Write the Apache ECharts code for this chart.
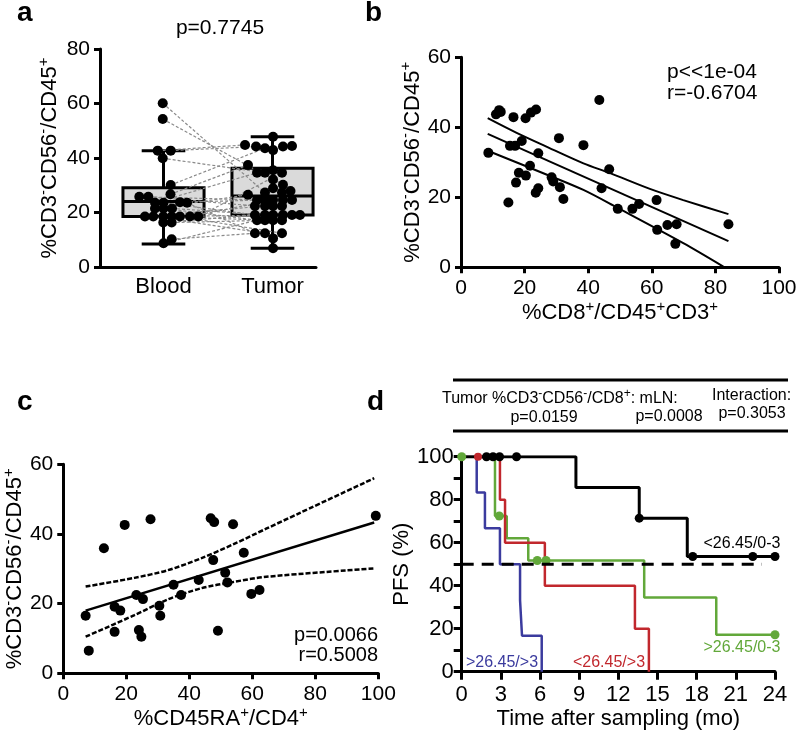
<!DOCTYPE html>
<html><head><meta charset="utf-8">
<script src="https://cdn.jsdelivr.net/npm/echarts@6/dist/echarts.min.js"></script>
<style>html,body{margin:0;padding:0;background:#fff}#c{width:800px;height:738px}</style>
</head><body><div id="c"></div>
<script>
// ---------- Panel a ----------
const aCategories = ['Blood', 'Tumor'];
const aBoxStats = [[8.4, 18.5, 24.0, 29.1, 42.7], [6.9, 19.1, 26.1, 36.2, 47.8]]; // min,Q1,median,Q3,max
const bloodY = [60.1,54.3,42.7,42.7,39.9,30.1,26.7,25.8,25.8,23.6,23.6,23.8,23.6,21.5,21.5,21.5,18.5,18.5,18.5,18.5,18.5,18.5,18.5,16.3,16.3,10.2,8.7];
const bloodX = [0.993,0.993,0.947,1.066,0.993,1.066,1.064,0.778,0.861,0.922,1.0,1.151,1.216,0.922,1.0,1.078,0.830,0.906,0.998,1.075,1.151,1.243,1.319,0.998,1.075,1.075,1.0];
const tumorY = [47.8,44.8,44.2,43.6,44.2,44.4,42.9,37.4,34.6,34.6,35.5,34.6,32.1,30.2,28.9,27.3,27.3,27.9,26.5,24.6,24.6,24.6,24.6,24.6,22.4,22.4,22.4,22.4,19.1,19.1,19.1,19.1,19.1,19.1,17.2,17.2,17.2,17.2,12.4,12.4,12.4,10.5,6.9];
const tumorX = [2.005,1.748,1.849,1.931,2.096,2.179,2.005,1.775,1.858,1.931,2.005,2.087,2.005,2.096,2.005,1.931,2.087,2.165,1.775,1.858,1.931,2.005,2.096,2.179,1.839,1.931,2.005,2.087,1.839,1.931,2.005,2.096,2.179,2.252,1.858,1.931,2.005,2.087,1.839,1.931,2.087,2.005,2.005];
const pairs = [[0,15],[1,13],[2,1],[3,2],[4,9],[5,3],[6,7],[7,19],[8,24],[9,8],[10,28],[11,20],[12,38],[13,18],[14,34],[15,29],[16,25],[17,39],[18,35],[19,30],[20,40],[21,21],[22,11],[23,28],[24,36],[25,38],[26,34]];
const aPValue = 'p=0.7745';

// ---------- Panel b ----------
const bX = [8.6,11,12,12.5,14.9,15.4,16.5,17,17.3,18.2,19.1,20.3,20.4,21.7,22,23.6,23.5,24.3,24.3,28.5,29,30.8,31.1,32.2,38.5,43.5,44.2,46.6,49.3,53.9,56,61.5,61.7,64.9,67.8,67.4,84.1];
const bY = [32.7,43.7,44.9,44.4,18.5,34.7,42.9,34.7,24.2,27,36.1,42.6,26.2,29,44.2,45.1,21.3,22.6,32.6,25.7,24.5,36.9,22.9,19.5,34.9,47.8,22.6,28,16.7,16.7,18.1,19.2,10.7,12.1,12.3,6.7,12.3];
const bFitX = [8.4, 84.1], bFitY = [38.1, 7.5];
const bUpX = [8.4, 17.5, 28, 38.5, 46.9, 59.4, 69.9, 84.1], bUpY = [42.6, 38.4, 34.0, 29.7, 26.9, 22.4, 19.2, 15.2];
const bLoX = [8.4, 28, 38.5, 49, 69.9, 82.5], bLoY = [33.3, 26.1, 22.1, 17.1, 6.9, 0.2];
const bStats = ['p<<1e-04', 'r=-0.6704'];

// ---------- Panel c ----------
const cX = [7.1,8.1,12.9,16.3,16.3,18.1,19.5,23.2,24.0,24.8,25.3,27.7,30.5,30.8,35.0,37.4,43.0,46.8,47.9,47.6,49.1,51.4,52.1,53.9,57.3,59.7,62.3,99.2];
const cY = [16.5,6.5,35.9,19.1,11.9,18.0,42.6,22.5,12.4,10.5,21.3,44.2,19.4,16.5,25.4,22.5,26.8,44.5,43.4,32.5,12.2,28.9,26.1,42.8,34.6,22.8,23.9,45.2];
const cFitX = [7.1, 98.7], cFitY = [18.0, 43.3];
const cUpX = [7.1, 22.6, 33.2, 43.7, 53.9, 64.4, 75.0, 98.7], cUpY = [24.9, 27.4, 29.6, 33.0, 37.0, 41.5, 46.0, 56.0];
const cLoX = [7.1, 22.6, 33.2, 43.7, 53.9, 64.4, 98.7], cLoY = [10.5, 16.7, 21.2, 24.4, 26.2, 27.7, 30.1];
const cStats = ['p=0.0066', 'r=0.5008'];

// ---------- Panel d ----------
const dTicksX = [0, 3, 6, 9, 12, 15, 18, 21, 24];
const blackT = [0, 8.75, 13.6, 17.28, 24], blackS = [100, 85.7, 71.4, 53.6, 53.6];
const blackCT = [1.9, 2.4, 2.9, 4.2, 13.6, 17.7, 22.3, 24], blackCS = [100, 100, 100, 100, 71.4, 53.6, 53.6, 53.6];
const redT = [0, 2.93, 3.32, 6.37, 13.27, 14.34], redS = [100, 80, 60, 40, 20, 0];
const redCT = [1.25], redCS = [100];
const blueT = [0, 1.15, 1.78, 2.93, 4.47, 4.62, 6.13], blueS = [100, 83.3, 66.7, 50, 33.3, 16.7, 0];
const greenT = [0, 2.55, 3.45, 5.1, 13.98, 19.5, 24], greenS = [100, 72.4, 62.1, 51.7, 34.5, 17.2, 17.2];
const greenCT = [0, 2.88, 5.79, 6.46, 24], greenCS = [100, 72.4, 51.7, 51.7, 17.2];
const medianT = [0, 23], medianS = [50, 50];
const groupNames = ['<26.45/0-3', '>26.45/0-3', '>26.45/>3', '<26.45/>3'];
const headerPs = ['p=0.0159', 'p=0.0008', 'p=0.3053'];

// ---------- build ----------
const FF = '"Liberation Sans", Arial, sans-serif';
const BLUE = '#3b3b9e', RED = '#c1272d', GREEN = '#62a83a';
const zip = (xs, ys) => xs.map((x, i) => [x, ys[i]]);
const supRich = {
  n: { fontSize: 22, lineHeight: 28, fontFamily: FF, color: '#000' },
  s: { fontSize: 15, lineHeight: 12, verticalAlign: 'top', fontFamily: FF, color: '#000' }
};
const yNameA = '{n|%CD3}{s|-}{n|CD56}{s|-}{n|/CD45}{s|+}';
const dot = (c) => ({ color: c, opacity: 1 });

function axisBase(extra) {
  return Object.assign({
    type: 'value',
    splitLine: { show: false },
    axisLine: { show: true, onZero: false, lineStyle: { color: '#000', width: 3 } },
    axisTick: { show: true, length: 6, lineStyle: { color: '#000', width: 3 } },
    axisLabel: { color: '#000', fontSize: 21, fontFamily: FF, margin: 10 },
    nameTextStyle: { color: '#000', fontSize: 22, fontFamily: FF, rich: supRich },
    nameLocation: 'middle'
  }, extra);
}

const option = {
  animation: false,
  backgroundColor: '#fff',
  textStyle: { fontFamily: FF },
  grid: [
    { left: 100, top: 49, width: 216, height: 218 },
    { left: 461, top: 57.3, width: 318, height: 210 },
    { left: 61.5, top: 464.3, width: 316.8, height: 209 },
    { left: 461.7, top: 456.7, width: 313.3, height: 215 }
  ],
  xAxis: [
    axisBase({ gridIndex: 0, min: 0.4174, max: 2.399, axisTick: { show: false },
      axisLabel: { color: '#000', fontSize: 22, fontFamily: FF, margin: 9, customValues: [1, 2],
        formatter: v => aCategories[Math.round(v) - 1] || '' } }),
    axisBase({ gridIndex: 1, min: 0, max: 100, interval: 20, name: '{n|%CD8}{s|+}{n|/CD45}{s|+}{n|CD3}{s|+}', nameGap: 32,
      axisLabel: { color: '#000', fontSize: 21, fontFamily: FF, margin: 10 } }),
    axisBase({ gridIndex: 2, min: 0, max: 100, interval: 20, name: '{n|%CD45RA}{s|+}{n|/CD4}{s|+}', nameGap: 32 }),
    axisBase({ gridIndex: 3, min: 0, max: 24, interval: 3, name: 'Time after sampling (mo)', nameGap: 36,
      axisTick: { show: true, length: 8, lineStyle: { color: '#000', width: 3 } },
      axisLabel: { color: '#000', fontSize: 22, fontFamily: FF, margin: 12 } })
  ],
  yAxis: [
    axisBase({ gridIndex: 0, min: 0, max: 80, interval: 20, name: yNameA, nameRotate: 90, nameGap: 36 }),
    axisBase({ gridIndex: 1, min: 0, max: 60, interval: 20, name: yNameA, nameRotate: 90, nameGap: 33 }),
    axisBase({ gridIndex: 2, min: 0, max: 60, interval: 20, name: yNameA, nameRotate: 90, nameGap: 28 }),
    axisBase({ gridIndex: 3, min: 0, max: 100, interval: 10, name: 'PFS (%)', nameRotate: 90, nameGap: 38,
      axisTick: { show: true, length: 8, lineStyle: { color: '#000', width: 3 } },
      axisLabel: { color: '#000', fontSize: 22, fontFamily: FF, margin: 8, formatter: v => (v % 20 === 0 ? String(v) : '') } })
  ],
  series: [
    // panel a boxes
    {
      type: 'custom', xAxisIndex: 0, yAxisIndex: 0, z: 1,
      data: aBoxStats.map((s, i) => [i + 1].concat(s)),
      encode: { x: 0, y: [1, 2, 3, 4, 5] },
      renderItem: function (params, api) {
        const x = api.value(0);
        const lo = api.coord([x, api.value(1)]);
        const q1 = api.coord([x, api.value(2)]);
        const md = api.coord([x, api.value(3)]);
        const q3 = api.coord([x, api.value(4)]);
        const hi = api.coord([x, api.value(5)]);
        const hw = api.size([0.372, 0])[0];
        const cw = api.size([0.2, 0])[0];
        const st = { stroke: '#000', lineWidth: 3, fill: null };
        return { type: 'group', children: [
          { type: 'line', shape: { x1: hi[0], y1: hi[1], x2: lo[0], y2: lo[1] }, style: st },
          { type: 'line', shape: { x1: hi[0] - cw, y1: hi[1], x2: hi[0] + cw, y2: hi[1] }, style: st },
          { type: 'line', shape: { x1: lo[0] - cw, y1: lo[1], x2: lo[0] + cw, y2: lo[1] }, style: st },
          { type: 'rect', shape: { x: q3[0] - hw, y: q3[1], width: 2 * hw, height: q1[1] - q3[1] }, style: { fill: '#dadada', stroke: '#000', lineWidth: 3 } },
          { type: 'line', shape: { x1: md[0] - hw, y1: md[1], x2: md[0] + hw, y2: md[1] }, style: st }
        ] };
      }
    },
    {
      type: 'lines', coordinateSystem: 'cartesian2d', xAxisIndex: 0, yAxisIndex: 0, z: 3,
      data: pairs.map(p => ({ coords: [[bloodX[p[0]], bloodY[p[0]]], [tumorX[p[1]], tumorY[p[1]]]] })),
      lineStyle: { color: '#8a8a8a', width: 1.2, type: [3, 2], opacity: 1 }
    },
    { type: 'scatter', xAxisIndex: 0, yAxisIndex: 0, z: 4, symbolSize: 10, itemStyle: dot('#000'), data: zip(bloodX, bloodY) },
    { type: 'scatter', xAxisIndex: 0, yAxisIndex: 0, z: 4, symbolSize: 10, itemStyle: dot('#000'), data: zip(tumorX, tumorY) },
    // panel b
    { type: 'scatter', xAxisIndex: 1, yAxisIndex: 1, symbolSize: 10, itemStyle: dot('#000'), data: zip(bX, bY) },
    { type: 'line', xAxisIndex: 1, yAxisIndex: 1, showSymbol: false, lineStyle: { color: '#000', width: 2 }, data: zip(bFitX, bFitY) },
    { type: 'line', xAxisIndex: 1, yAxisIndex: 1, showSymbol: false, smooth: 0.3, lineStyle: { color: '#000', width: 2 }, data: zip(bUpX, bUpY) },
    { type: 'line', xAxisIndex: 1, yAxisIndex: 1, showSymbol: false, smooth: 0.3, lineStyle: { color: '#000', width: 2 }, data: zip(bLoX, bLoY) },
    // panel c
    { type: 'scatter', xAxisIndex: 2, yAxisIndex: 2, symbolSize: 10, clip: false, itemStyle: dot('#000'), data: zip(cX, cY) },
    { type: 'line', xAxisIndex: 2, yAxisIndex: 2, showSymbol: false, lineStyle: { color: '#000', width: 2.5 }, data: zip(cFitX, cFitY) },
    { type: 'line', xAxisIndex: 2, yAxisIndex: 2, showSymbol: false, smooth: 0.3, lineStyle: { color: '#000', width: 2.5, type: [5, 2] }, data: zip(cUpX, cUpY) },
    { type: 'line', xAxisIndex: 2, yAxisIndex: 2, showSymbol: false, smooth: 0.3, lineStyle: { color: '#000', width: 2.5, type: [5, 2] }, data: zip(cLoX, cLoY) },
    // panel d
    { type: 'line', xAxisIndex: 3, yAxisIndex: 3, step: 'end', showSymbol: false, z: 3, lineStyle: { color: GREEN, width: 2.5 }, data: zip(greenT, greenS) },
    { type: 'line', xAxisIndex: 3, yAxisIndex: 3, step: 'end', showSymbol: false, z: 4, lineStyle: { color: RED, width: 2.5 }, data: zip(redT, redS) },
    { type: 'line', xAxisIndex: 3, yAxisIndex: 3, step: 'end', showSymbol: false, z: 5, lineStyle: { color: BLUE, width: 2.5 }, data: zip(blueT, blueS) },
    { type: 'line', xAxisIndex: 3, yAxisIndex: 3, step: 'end', showSymbol: false, z: 6, lineStyle: { color: '#000', width: 3 }, data: zip(blackT, blackS) },
    { type: 'scatter', xAxisIndex: 3, yAxisIndex: 3, z: 7, symbolSize: 9, clip: false, itemStyle: dot(GREEN), data: zip(greenCT, greenCS) },
    { type: 'scatter', xAxisIndex: 3, yAxisIndex: 3, z: 7, symbolSize: 8, clip: false, itemStyle: dot(RED), data: zip(redCT, redCS) },
    { type: 'scatter', xAxisIndex: 3, yAxisIndex: 3, z: 8, symbolSize: 9, clip: false, itemStyle: dot('#000'), data: zip(blackCT, blackCS) },
    { type: 'line', xAxisIndex: 3, yAxisIndex: 3, showSymbol: false, z: 9, lineStyle: { color: '#000', width: 3, type: [12, 8] }, data: zip(medianT, medianS) }
  ],
  graphic: { elements: [
    { type: 'text', x: 17, y: 13, style: { text: 'a', font: 'bold 28px ' + FF, fill: '#000', align: 'left', verticalAlign: 'middle' } },
    { type: 'text', x: 365, y: 13, style: { text: 'b', font: 'bold 28px ' + FF, fill: '#000', align: 'left', verticalAlign: 'middle' } },
    { type: 'text', x: 17, y: 402, style: { text: 'c', font: 'bold 28px ' + FF, fill: '#000', align: 'left', verticalAlign: 'middle' } },
    { type: 'text', x: 367, y: 402, style: { text: 'd', font: 'bold 28px ' + FF, fill: '#000', align: 'left', verticalAlign: 'middle' } },
    { type: 'text', x: 220, y: 28, style: { text: aPValue, font: '21px ' + FF, fill: '#000', align: 'center', verticalAlign: 'middle' } },
    { type: 'text', x: 667, y: 72, style: { text: bStats[0], font: '21px ' + FF, fill: '#000', align: 'left', verticalAlign: 'middle' } },
    { type: 'text', x: 667, y: 93, style: { text: bStats[1], font: '21px ' + FF, fill: '#000', align: 'left', verticalAlign: 'middle' } },
    { type: 'text', x: 378, y: 635, style: { text: cStats[0], font: '20px ' + FF, fill: '#000', align: 'right', verticalAlign: 'middle' } },
    { type: 'text', x: 378, y: 655, style: { text: cStats[1], font: '20px ' + FF, fill: '#000', align: 'right', verticalAlign: 'middle' } },
    { type: 'line', shape: { x1: 453, y1: 380, x2: 788, y2: 380 }, style: { stroke: '#000', lineWidth: 3 } },
    { type: 'line', shape: { x1: 453, y1: 431, x2: 788, y2: 431 }, style: { stroke: '#000', lineWidth: 3 } },
    { type: 'text', x: 442, y: 399, style: { text: '{n|Tumor %CD3}{s|-}{n|CD56}{s|-}{n|/CD8}{s|+}{n|: mLN:}', align: 'left', verticalAlign: 'middle',
      rich: { n: { fontSize: 16, lineHeight: 22, fontFamily: FF, color: '#000' }, s: { fontSize: 12, lineHeight: 10, verticalAlign: 'top', fontFamily: FF, color: '#000' } } } },
    { type: 'text', x: 712, y: 396, style: { text: 'Interaction:', font: '16px ' + FF, fill: '#000', align: 'left', verticalAlign: 'middle' } },
    { type: 'text', x: 544, y: 418, style: { text: headerPs[0], font: '16px ' + FF, fill: '#000', align: 'center', verticalAlign: 'middle' } },
    { type: 'text', x: 669, y: 417, style: { text: headerPs[1], font: '16px ' + FF, fill: '#000', align: 'center', verticalAlign: 'middle' } },
    { type: 'text', x: 752, y: 414, style: { text: headerPs[2], font: '16px ' + FF, fill: '#000', align: 'center', verticalAlign: 'middle' } },
    { type: 'text', x: 742, y: 544, style: { text: groupNames[0], font: '16px ' + FF, fill: '#000', align: 'center', verticalAlign: 'middle' } },
    { type: 'text', x: 742, y: 648, style: { text: groupNames[1], font: '16px ' + FF, fill: GREEN, align: 'center', verticalAlign: 'middle' } },
    { type: 'text', x: 502, y: 663, style: { text: groupNames[2], font: '16px ' + FF, fill: BLUE, align: 'center', verticalAlign: 'middle' } },
    { type: 'text', x: 609, y: 663, style: { text: groupNames[3], font: '16px ' + FF, fill: RED, align: 'center', verticalAlign: 'middle' } }
  ] }
};
const chart = echarts.init(document.getElementById('c'), null, { renderer: 'canvas' });
chart.setOption(option);
</script></body></html>
